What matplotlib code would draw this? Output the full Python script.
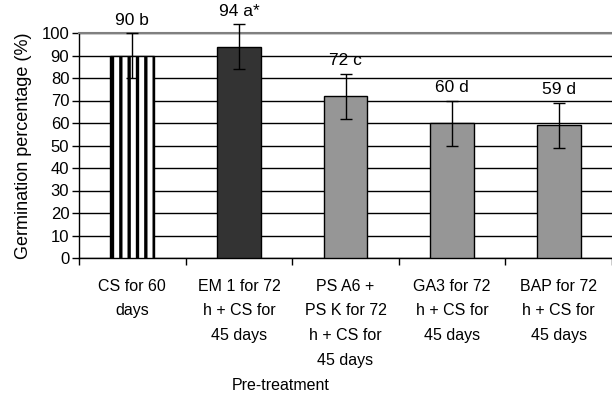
import numpy as np
import matplotlib.pyplot as plt

plt.rcParams['font.family'] = ['Liberation Sans', 'DejaVu Sans']
plt.rcParams['hatch.linewidth'] = 2.4

# --- Data ---
categories = ["CS for 60\ndays",
              "EM 1 for 72\nh + CS for\n45 days",
              "PS A6 +\nPS K for 72\nh + CS for\n45 days",
              "GA3 for 72\nh + CS for\n45 days",
              "BAP for 72\nh + CS for\n45 days"]
germination = [90, 94, 72, 60, 59]
errors = [10, 10, 10, 10, 10]
letters = ["b", "a*", "c", "d", "d"]
bar_colors = ["white", "#333333", "#969696", "#969696", "#969696"]

# --- Figure ---
fig = plt.figure(figsize=(6.12, 3.98), dpi=100)
ax = fig.add_axes([79 / 612, 1 - 258 / 398, 533 / 612, 225 / 398])

x = np.arange(len(categories))
bars = ax.bar(x, germination, width=0.41, color=bar_colors,
              edgecolor="black", linewidth=1, zorder=3)
bars[0].set_hatch("||")

ax.errorbar(x, germination, yerr=errors, fmt="none", ecolor="black",
            elinewidth=1, capsize=4, capthick=1, zorder=4, clip_on=False)

for xi, v, e, lab in zip(x, germination, errors, letters):
    ax.annotate(f"{v} {lab}", (xi, v + e), xytext=(0, 6),
                textcoords="offset points", ha="center", va="baseline",
                fontsize=12.5, annotation_clip=False)

ax.set_xlim(-0.5, len(categories) - 0.5)
ax.set_ylim(0, 100)
ax.set_yticks(range(0, 101, 10))
ax.yaxis.grid(True, color="black", linewidth=1, zorder=0)
ax.set_axisbelow(True)

ax.set_xticks(x)
ax.set_xticklabels(categories, fontsize=11.5, linespacing=1.8)
ax.set_xticks(np.arange(-0.5, len(categories)), minor=True)
ax.tick_params(axis="x", which="major", length=0, pad=15)
ax.tick_params(axis="x", which="minor", length=5, width=1, direction="out")
ax.tick_params(axis="y", length=5, width=1, direction="out", labelsize=12, pad=2)

ax.spines["right"].set_visible(False)
ax.spines["top"].set_color("#808080")
ax.spines["top"].set_linewidth(1.5)
ax.spines["left"].set_linewidth(1)
ax.spines["bottom"].set_linewidth(1)
ax.set_ylabel("Germination percentage (%)", fontsize=13, labelpad=7)

fig.text(281 / 612, 1 - 386 / 398, "Pre-treatment", ha="center", va="center",
         fontsize=11.5)

fig.savefig("out.png", dpi=100)
